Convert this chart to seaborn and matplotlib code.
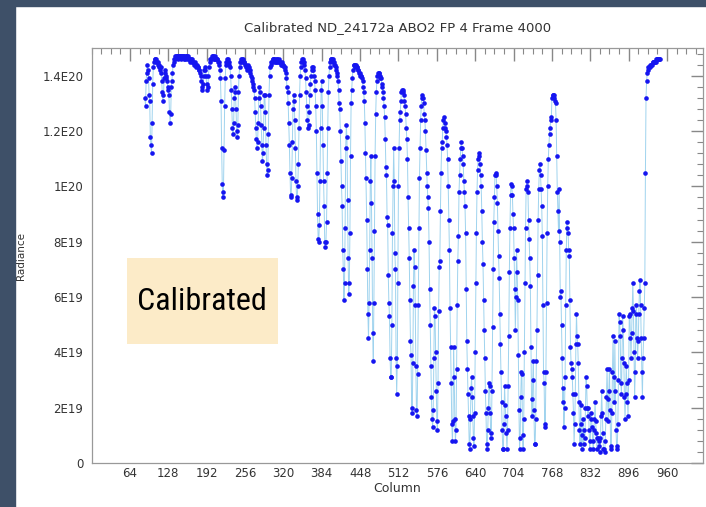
import numpy as np
import matplotlib
matplotlib.use("Agg")
import matplotlib.pyplot as plt
from matplotlib import font_manager as fm
from matplotlib.patches import Rectangle
from matplotlib.ticker import MultipleLocator
import seaborn as sns

title = "Calibrated ND_24172a ABO2 FP 4 Frame 4000"
x_label = "Column"
y_label = "Radiance"
badge_text = "Calibrated"

xtick_values = [64, 128, 192, 256, 320, 384, 448, 512, 576, 640, 704, 768, 832, 896, 960]
ytick_values = [0, 2e19, 4e19, 6e19, 8e19, 1e20, 1.2e20, 1.4e20]
ytick_labels = ["0", "2E19", "4E19", "6E19", "8E19", "1E20", "1.2E20", "1.4E20"]

first_column = 89
# radiance per detector column, in units of 1E19
radiance_e19 = [
    13.2, 12.9, 13.8, 14.1, 14.4, 14.2, 13.9, 13.3, 13.1, 11.8, 11.5,
    11.2, 12.3, 13.7, 14.3, 14.5, 14.6, 14.6, 14.5, 14.6, 14.5,
    14.4, 14.5, 14.3, 14.4, 14.2, 14.3, 14.1, 13.8, 13.4, 13.1,
    13.3, 13.9, 14.2, 14.1, 14.0, 13.9, 13.8, 13.6, 13.5, 13.3,
    12.7, 12.3, 12.6, 13.6, 13.8, 14.1, 14.4, 14.5, 14.6, 14.6,
    14.7, 14.7, 14.7, 14.7, 14.6, 14.7, 14.7, 14.7, 14.7, 14.6,
    14.7, 14.7, 14.7, 14.7, 14.7, 14.6, 14.6, 14.7, 14.7, 14.7,
    14.6, 14.7, 14.6, 14.6, 14.6, 14.5, 14.6, 14.6, 14.5, 14.5,
    14.5, 14.4, 14.5, 14.4, 14.4, 14.3, 14.4, 14.3, 14.3, 14.2,
    14.2, 14.1, 14.0, 13.8, 13.6, 13.5, 13.7, 14.0, 14.2, 14.3,
    14.2, 14.0, 13.7, 13.5, 13.6, 14.0, 14.3, 14.5, 14.6, 14.6,
    14.6, 14.7, 14.7, 14.7, 14.6, 14.6, 14.7, 14.6, 14.6, 14.6,
    14.6, 14.5, 14.5, 14.4, 14.2, 13.9, 13.1, 11.4, 10.1, 9.6,
    9.8, 11.3, 12.9, 13.9, 14.4, 14.5, 14.6, 14.6, 14.5, 14.5,
    14.4, 14.3, 14.0, 13.5, 12.8, 12.1, 11.9, 12.3, 13.2, 13.6,
    13.4, 12.8, 12.0, 11.8, 12.2, 13.4, 14.0, 14.3, 14.5, 14.5,
    14.6, 14.6, 14.5, 14.6, 14.5, 14.5, 14.4, 14.4, 14.3, 14.2,
    14.3, 14.4, 14.3, 14.2, 14.2, 14.1, 14.0, 13.9, 13.8, 13.7,
    13.6, 13.5, 13.2, 12.7, 12.1, 11.7, 11.4, 11.6, 12.3, 13.2,
    13.6, 13.4, 12.9, 12.2, 11.5, 10.9, 11.2, 12.1, 13.3, 13.3,
    12.7, 11.5, 10.8, 10.4, 10.6, 11.9, 13.3, 14.0, 14.3, 14.4,
    14.5, 14.5, 14.6, 14.6, 14.5, 14.6, 14.6, 14.5, 14.5, 14.6,
    14.6, 14.5, 14.5, 14.6, 14.5, 14.5, 14.4, 14.5, 14.4, 14.4,
    14.4, 14.3, 14.3, 14.2, 14.1, 13.9, 13.6, 13.4, 13.0, 12.3,
    11.5, 10.5, 9.7, 9.6, 10.3, 11.6, 12.8, 13.3, 13.1, 12.4,
    11.4, 10.2, 9.6, 9.5, 10.0, 10.8, 12.1, 13.3, 14.0, 14.3,
    14.5, 14.6, 14.6, 14.5, 14.5, 14.4, 14.2, 13.9, 13.4, 12.9,
    12.4, 12.1, 12.2, 12.7, 13.3, 13.7, 14.0, 14.2, 14.3, 14.3,
    14.2, 14.0, 13.8, 13.5, 12.9, 12.0, 10.5, 9.0, 8.1, 8.0,
    8.6, 10.2, 12.1, 13.5, 13.8, 12.9, 11.5, 10.2, 9.3, 8.0,
    7.8, 8.0, 8.7, 10.5, 12.1, 13.4, 14.0, 14.3, 14.5, 14.6,
    14.6, 14.6, 14.6, 14.5, 14.5, 14.4, 14.4, 14.3, 14.2, 14.1,
    14.0, 13.8, 13.5, 13.0, 12.8, 12.0, 10.9, 10.0, 9.3, 7.7,
    7.0, 5.9, 6.5, 8.5, 11.4, 12.2, 11.8, 9.5, 7.4, 6.1,
    6.5, 8.3, 11.1, 13.0, 13.5, 13.9, 14.2, 14.4, 14.4, 14.3,
    14.4, 14.4, 14.3, 14.3, 14.2, 14.2, 14.1, 14.1, 14.0, 14.0,
    14.0, 13.9, 13.8, 13.6, 13.4, 13.1, 12.3, 11.2, 10.3, 8.8,
    7.0, 5.4, 4.5, 5.8, 7.7, 10.2, 11.1, 9.4, 7.4, 4.7,
    3.7, 5.8, 8.4, 11.1, 12.6, 13.4, 13.8, 14.0, 14.1, 14.1,
    14.1, 14.0, 13.9, 13.9, 13.7, 13.6, 13.4, 13.2, 12.9, 12.5,
    11.7, 10.7, 10.4, 8.9, 8.6, 6.8, 5.8, 5.3, 3.8, 3.1,
    3.1, 5.0, 8.3, 10.0, 11.4, 10.2, 7.6, 7.0, 3.8, 2.5,
    3.5, 6.5, 10.0, 11.4, 12.4, 12.7, 13.1, 13.4, 13.5, 13.5,
    13.4, 13.3, 13.1, 12.9, 12.6, 12.1, 11.7, 11.0, 9.6, 8.5,
    7.4, 5.9, 4.4, 3.9, 2.0, 1.8, 3.6, 6.4, 7.7, 7.1,
    5.7, 3.5, 1.9, 1.7, 3.2, 5.7, 8.5, 10.3, 11.4, 12.4,
    12.9, 13.2, 13.3, 13.2, 13.0, 12.6, 12.4, 12.0, 11.3, 10.5,
    10.0, 9.6, 9.2, 8.0, 6.3, 5.0, 3.5, 2.4, 1.6, 1.3,
    1.9, 3.8, 5.6, 5.3, 4.0, 2.6, 1.5, 1.2, 2.9, 5.5,
    7.1, 7.3, 9.1, 10.5, 11.4, 11.6, 12.1, 12.4, 12.5, 12.3,
    12.1, 12.0, 11.8, 11.5, 11.0, 10.0, 8.8, 7.7, 5.6, 4.2,
    2.9, 1.4, 0.8, 1.5, 4.2, 3.1, 1.6, 0.8, 1.2, 3.4,
    5.7, 7.3, 8.2, 9.8, 10.4, 11.0, 11.4, 11.6, 11.4, 11.1,
    10.8, 10.2, 9.8, 9.3, 8.3, 6.3, 4.4, 3.4, 2.5, 1.7,
    0.7, 0.5, 1.6, 2.7, 3.1, 2.4, 1.7, 0.9, 0.6, 1.8,
    4.0, 6.5, 8.3, 9.8, 10.6, 11.0, 11.2, 11.1, 10.8, 10.4,
    10.0, 9.1, 8.0, 7.2, 5.9, 4.8, 3.8, 2.6, 1.8, 0.7,
    0.5, 1.2, 2.0, 2.9, 2.8, 1.8, 0.9, 1.1, 2.6, 4.9,
    7.0, 8.7, 9.6, 10.4, 10.5, 10.4, 10.0, 9.4, 8.4, 7.5,
    6.7, 5.4, 4.3, 3.3, 2.2, 1.2, 0.5, 0.5, 1.4, 2.8,
    2.1, 1.7, 1.1, 0.5, 1.2, 2.8, 4.6, 6.9, 8.5, 9.7,
    10.1, 10.0, 9.7, 9.0, 8.5, 7.4, 6.3, 4.8, 6.0, 7.7,
    6.9, 5.9, 3.9, 1.9, 0.5, 0.9, 2.4, 3.3, 3.2, 1.0,
    0.5, 1.6, 4.0, 6.5, 8.5, 9.9, 10.2, 10.0, 9.8, 8.8,
    8.1, 7.4, 6.4, 4.2, 2.3, 1.7, 3.0, 3.7, 1.9, 0.7,
    0.7, 1.6, 3.7, 4.8, 6.8, 8.8, 9.9, 10.6, 10.8, 10.4,
    9.9, 9.3, 8.2, 5.7, 3.3, 2.9, 1.3, 1.4, 3.3, 5.8,
    8.3, 10.0, 11.0, 11.5, 11.9, 12.1, 12.5, 12.4, 13.2, 13.3,
    13.3, 13.3, 13.2, 13.1, 13.0, 12.4, 11.1, 9.8, 9.1, 8.4,
    9.9, 8.0, 6.0, 6.2, 5.0, 3.8, 2.2, 2.7, 1.3, 2.0,
    3.1, 5.7, 7.7, 8.7, 8.5, 8.3, 7.7, 7.5, 5.9, 4.2,
    3.6, 3.4, 3.1, 2.5, 1.8, 0.7, 1.4, 2.5, 4.3, 5.4,
    4.6, 4.3, 3.6, 2.2, 1.2, 0.7, 2.1, 1.4, 0.5, 1.0,
    1.6, 0.7, 1.2, 0.9, 2.0, 3.1, 2.8, 2.0, 1.7, 2.0,
    1.2, 0.5, 0.8, 1.6, 1.8, 1.3, 0.8, 0.5, 1.2, 1.6,
    2.2, 1.5, 1.1, 0.5, 0.9, 0.9, 0.8, 0.6, 0.4, 0.9,
    1.7, 2.6, 1.8, 1.1, 0.5, 0.5, 0.4, 0.8, 1.6, 2.4,
    3.4, 2.3, 1.5, 2.6, 3.4, 1.9, 0.6, 0.5, 1.8, 3.3,
    4.6, 3.1, 2.2, 4.4, 2.6, 1.2, 0.5, 0.6, 1.4, 3.0,
    5.4, 5.1, 4.6, 2.9, 2.5, 3.8, 5.3, 4.8, 3.6, 2.4,
    1.6, 2.5, 3.5, 2.9, 2.2, 1.7, 3.0, 5.3, 5.4, 4.5,
    3.8, 4.7, 5.6, 6.5, 5.5, 4.0, 2.4, 3.3, 5.4, 5.7,
    4.5, 3.8, 4.4, 5.4, 6.2, 6.6, 5.7, 4.5, 3.3, 2.4,
    3.8, 4.5, 5.6, 6.5, 10.5, 13.2, 13.8, 14.1, 14.2, 14.3,
    14.3, 14.3, 14.4, 14.4, 14.4, 14.4, 14.5, 14.5, 14.5, 14.5,
    14.5, 14.5, 14.6, 14.6, 14.6, 14.6, 14.6, 14.6, 14.6,
]

columns = np.arange(first_column, first_column + len(radiance_e19))
radiance = np.array(radiance_e19) * 1e19

sns.set_style("white")
plt.rcParams["font.family"] = ["DejaVu Sans"]

# pick a narrow sans for the badge, whichever is installed
installed = {f.name for f in fm.fontManager.ttflist}
narrow_candidates = ["Liberation Sans Narrow", "Arial Narrow", "Roboto Condensed",
                     "Pragati Narrow", "Archivo Narrow", "PT Sans Narrow",
                     "Fira Sans Condensed", "Liberation Sans"]
badge_font = next(n for n in narrow_candidates + ["DejaVu Sans"] if n in installed)

fig = plt.figure(figsize=(7.06, 5.07), dpi=100)
fig.patch.set_facecolor("white")
# dark slide border on the left and top
fig.patches.append(Rectangle((0, 0), 15 / 706, 1, transform=fig.transFigure,
                             color="#3e5068", zorder=0))
fig.patches.append(Rectangle((0, 1 - 6 / 507), 1, 6 / 507, transform=fig.transFigure,
                             color="#3e5068", zorder=0))

ax = fig.add_axes([0.1297, 0.0868, 0.866, 0.8185])

sns.lineplot(x=columns, y=radiance, ax=ax, color="#9fd3ee", linewidth=0.7,
             estimator=None, sort=False, zorder=2)
sns.scatterplot(x=columns, y=radiance, ax=ax, color="#1515f0", s=11,
                linewidth=0, zorder=3)

ax.set_xlim(0, 1020)
ax.set_ylim(0, 1.5e20)
ax.set_xticks(xtick_values)
ax.set_yticks(ytick_values)
ax.set_yticklabels(ytick_labels)
ax.xaxis.set_minor_locator(MultipleLocator(16))
ax.yaxis.set_minor_locator(MultipleLocator(4e18))

ax.tick_params(which="both", direction="in", top=True, right=True,
               colors="#888888", labelcolor="#333333", labelsize=8.5)
ax.tick_params(which="major", length=9, width=1.0)
ax.tick_params(which="minor", length=4.5, width=0.8)
ax.tick_params(axis="y", pad=6)
ax.tick_params(axis="x", pad=3)
for sp in ax.spines.values():
    sp.set_color("#999999")
    sp.set_linewidth(0.9)

ax.set_title(title, fontsize=9.5, color="#333333", pad=12)
ax.set_xlabel(x_label, fontsize=9, color="#333333", labelpad=1)
ax.set_ylabel(y_label, fontsize=7.5, color="#333333")
ax.yaxis.set_label_coords(-0.108, 0.5)

# "Calibrated" badge
ax.add_patch(Rectangle((0.058, 0.286), 0.247, 0.208, transform=ax.transAxes,
                       facecolor="#fcebc8", edgecolor="none", zorder=1))
badge = ax.text(0.181, 0.39, badge_text, transform=ax.transAxes, ha="center",
                va="center", fontsize=26, color="black", zorder=4,
                family=badge_font)
# size the badge text so it spans about 130 px, as in the slide
renderer = fig.canvas.get_renderer()
w = badge.get_window_extent(renderer).width
badge.set_fontsize(min(34, 26 * 130 / w))

fig.savefig("out.png", dpi=100)
